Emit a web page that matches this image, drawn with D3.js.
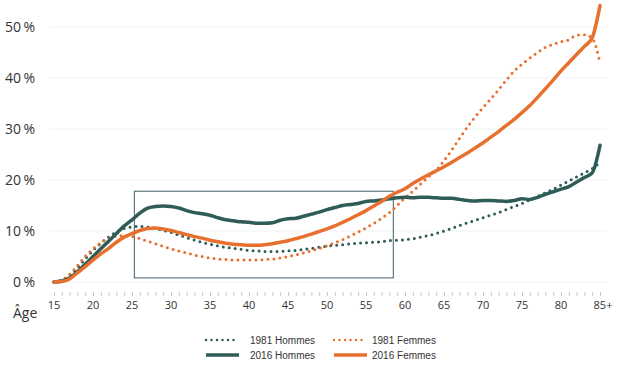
<!DOCTYPE html>
<html>
<head>
<meta charset="utf-8">
<script src="https://cdn.jsdelivr.net/npm/d3@7"></script>
<style>
  body { margin: 0; background: #fff; }
</style>
</head>
<body>
<svg id="chart" width="630" height="367"></svg>
<script>
// ages 15 .. 85+
const ages = d3.range(15, 86);
const xTickLabels = ["15", "20", "25", "30", "35", "40", "45", "50", "55", "60", "65", "70", "75", "80", "85+"];
const yTicks = [0, 10, 20, 30, 40, 50];

const hommes1981 = [0, 0.3, 1.2, 2.8, 4.5, 6.2, 7.6, 8.8, 9.8, 10.5,
  10.8, 10.9, 10.8, 10.5, 10.1, 9.7, 9.2, 8.7, 8.2, 7.8,
  7.4, 7.1, 6.8, 6.6, 6.4, 6.2, 6.1, 6.0, 6.0, 6.0,
  6.1, 6.2, 6.4, 6.6, 6.8, 7.0, 7.2, 7.3, 7.5, 7.6,
  7.7, 7.8, 7.9, 8.1, 8.2, 8.3, 8.5, 8.8, 9.1, 9.5,
  10.0, 10.5, 11.1, 11.6, 12.1, 12.6, 13.1, 13.6, 14.2, 14.8,
  15.4, 16.1, 16.8, 17.5, 18.2, 19.0, 19.8, 20.6, 21.4, 22.2, 23.5];

const femmes1981 = [0, 0.4, 1.5, 3.2, 5.0, 6.5, 7.7, 8.5, 9.0, 9.1,
  8.9, 8.5, 8.0, 7.5, 7.0, 6.5, 6.1, 5.7, 5.3, 5.0,
  4.7, 4.5, 4.4, 4.3, 4.3, 4.3, 4.3, 4.4, 4.5, 4.7,
  5.0, 5.3, 5.7, 6.1, 6.6, 7.1, 7.7, 8.3, 9.0, 9.8,
  10.6, 11.5, 12.5, 13.6, 15.0, 16.5, 17.8, 19.2, 20.6, 21.9,
  23.8, 25.9, 28.2, 30.4, 32.4, 34.2, 35.9, 37.7, 39.6, 41.4,
  42.7, 43.9, 45.0, 46.0, 46.6, 47.1, 47.5, 48.4, 48.5, 47.8, 43.0];

const hommes2016 = [0, 0.2, 0.8, 2.0, 3.5, 5.0, 6.5, 8.0, 9.5, 11.0,
  12.2, 13.5, 14.5, 14.8, 14.9, 14.8, 14.5, 14.0, 13.6, 13.4,
  13.1, 12.6, 12.2, 12.0, 11.8, 11.7, 11.5, 11.5, 11.6, 12.1,
  12.4, 12.5, 12.9, 13.3, 13.7, 14.2, 14.6, 15.0, 15.2, 15.4,
  15.8, 15.9, 16.1, 16.3, 16.5, 16.6, 16.5, 16.6, 16.6, 16.5,
  16.4, 16.4, 16.2, 16.0, 15.9, 16.0, 16.0, 15.9, 15.8, 16.0,
  16.3, 16.2, 16.6, 17.2, 17.7, 18.2, 18.7, 19.6, 20.5, 21.4, 26.8];

const femmes2016 = [0, 0.1, 0.6, 1.8, 3.0, 4.3, 5.5, 6.6, 7.8, 8.8,
  9.5, 10.1, 10.5, 10.6, 10.4, 10.1, 9.7, 9.3, 8.9, 8.6,
  8.2, 7.9, 7.6, 7.4, 7.3, 7.2, 7.2, 7.3, 7.5, 7.8,
  8.1, 8.5, 8.9, 9.4, 9.9, 10.4, 11.0, 11.7, 12.4, 13.2,
  14.0, 14.9, 15.8, 16.8, 17.6, 18.3, 19.3, 20.2, 21.0, 21.8,
  22.6, 23.5, 24.4, 25.3, 26.3, 27.3, 28.4, 29.5, 30.7, 31.9,
  33.2, 34.6, 36.2, 37.9, 39.6, 41.4, 43.0, 44.6, 46.2, 47.9, 54.2];

// highlighted zone (age range, percent range)
const zoneAges = [25.3, 58.5];
const zoneValues = [0.8, 17.8];

const green = "#2e5c57";
const orange = "#e8702f";

const series = [
  { name: "1981 Hommes", values: hommes1981, color: green, dotted: true },
  { name: "1981 Femmes", values: femmes1981, color: orange, dotted: true },
  { name: "2016 Hommes", values: hommes2016, color: green, dotted: false },
  { name: "2016 Femmes", values: femmes2016, color: orange, dotted: false }
];

const svg = d3.select("#chart");

const x = d3.scaleLinear().domain([15, 85]).range([54, 600]);
const y = d3.scaleLinear().domain([0, 50]).range([282, 27]);

// gridlines
svg.append("g")
  .selectAll("line")
  .data(yTicks)
  .enter()
  .append("line")
  .attr("x1", 50)
  .attr("x2", 606)
  .attr("y1", d => y(d))
  .attr("y2", d => y(d))
  .attr("stroke", "#edf2f3")
  .attr("stroke-width", 1);

// y labels
svg.append("g")
  .selectAll("text")
  .data(yTicks)
  .enter()
  .append("text")
  .attr("x", 35)
  .attr("y", d => y(d) + 5)
  .attr("text-anchor", "end")
  .attr("font-family", "Open Sans")
  .attr("font-size", 14)
  .attr("fill", "#333")
  .text(d => d + "\u2009%");

// x axis: small tick every year, labels every 5
const xAxis = d3.axisBottom(x)
  .tickValues(ages)
  .tickSize(4)
  .tickFormat("");
const gx = svg.append("g")
  .attr("transform", "translate(0,292)")
  .call(xAxis);
gx.select(".domain").remove();
gx.selectAll(".tick line").attr("stroke", "#c4c8ca");

svg.append("g")
  .selectAll("text")
  .data(xTickLabels)
  .enter()
  .append("text")
  .attr("x", (d, i) => x(15 + i * 5) + (d === "85+" ? 3 : 0))
  .attr("y", 309)
  .attr("text-anchor", "middle")
  .attr("font-family", "Open Sans")
  .attr("font-size", 11)
  .attr("fill", "#333")
  .text(d => d);

svg.append("text")
  .attr("x", 13)
  .attr("y", 318)
  .attr("font-family", "Open Sans")
  .attr("font-size", 14)
  .attr("fill", "#333")
  .text("Âge");

// zone rectangle
svg.append("rect")
  .attr("x", x(zoneAges[0]))
  .attr("y", y(zoneValues[1]))
  .attr("width", x(zoneAges[1]) - x(zoneAges[0]))
  .attr("height", y(zoneValues[0]) - y(zoneValues[1]))
  .attr("fill", "none")
  .attr("stroke", "#3e6068")
  .attr("stroke-width", 1);

const line = d3.line()
  .x((d, i) => x(ages[i]))
  .y(d => y(d))
  .curve(d3.curveMonotoneX);

// dotted first, solid on top
svg.append("g")
  .selectAll("path")
  .data(series)
  .enter()
  .append("path")
  .attr("d", d => line(d.values))
  .attr("fill", "none")
  .attr("stroke", d => d.color)
  .attr("stroke-width", d => d.dotted ? 3 : 3.5)
  .attr("stroke-linecap", "round")
  .attr("stroke-linejoin", "round")
  .attr("stroke-dasharray", d => d.dotted ? "0,6" : null);

// legend
const legend = [
  { s: series[0], x: 205, y: 340 },
  { s: series[1], x: 333, y: 340 },
  { s: series[2], x: 205, y: 355 },
  { s: series[3], x: 333, y: 355 }
];
const lg = svg.append("g")
  .selectAll("g")
  .data(legend)
  .enter()
  .append("g")
  .attr("transform", d => `translate(${d.x},${d.y})`);

lg.append("line")
  .attr("x1", 1)
  .attr("x2", d => d.s.dotted ? 32 : 34)
  .attr("y1", 0)
  .attr("y2", 0)
  .attr("stroke", d => d.s.color)
  .attr("stroke-width", d => d.s.dotted ? 2.5 : 3.5)
  .attr("stroke-linecap", d => d.s.dotted ? "round" : "butt")
  .attr("stroke-dasharray", d => d.s.dotted ? "0,5.5" : null);

lg.append("text")
  .attr("x", d => d.s.dotted ? (d.x === 205 ? 45 : 39) : (d.x === 205 ? 45 : 39))
  .attr("y", 3.5)
  .attr("font-family", "Liberation Sans, Arial")
  .attr("font-size", 10)
  .attr("fill", "#333")
  .text(d => d.s.name);
</script>
</body>
</html>
